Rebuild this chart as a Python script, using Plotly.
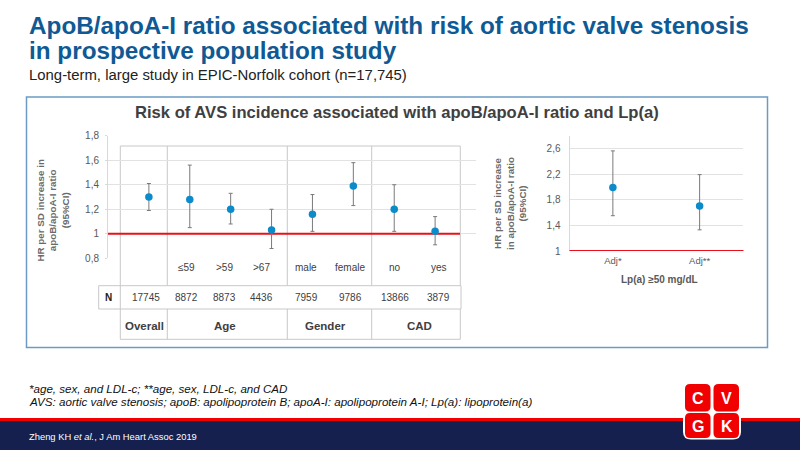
import plotly.graph_objects as go

# Left panel: HR per SD increase, with 95% CI
groups = ["Overall", "≤59", ">59", ">67", "male", "female", "no", "yes"]
hr = [1.30, 1.28, 1.20, 1.03, 1.16, 1.39, 1.20, 1.02]
ci_low = [1.19, 1.05, 1.08, 0.88, 1.02, 1.23, 1.02, 0.91]
ci_high = [1.41, 1.56, 1.33, 1.20, 1.32, 1.58, 1.40, 1.14]
n_values = ["17745", "8872", "8873", "4436", "7959", "9786", "13866", "3879"]
left_ticks = [0.8, 1, 1.2, 1.4, 1.6, 1.8]
left_ticktext = ["0,8", "1", "1,2", "1,4", "1,6", "1,8"]

# Right panel: Lp(a) >= 50 mg/dL
adj_labels = ["Adj*", "Adj**"]
adj_hr = [1.99, 1.70]
adj_low = [1.55, 1.33]
adj_high = [2.56, 2.19]
right_ticks = [1, 1.4, 1.8, 2.2, 2.6]
right_ticktext = ["1", "1,4", "1,8", "2,2", "2,6"]

group_names = ["Overall", "Age", "Gender", "CAD"]

FONT = "Liberation Sans"
BLUE = "#0f5a94"
GREY = "#595959"
DARK = "#404040"
DOT = "#0b8bc9"
RED = "#e8101a"
LINE = "#c8c8c8"


def px(x):
    return x / 800


def py(y):
    return 1 - y / 450


annotations = []
shapes = []


def note(text, x, y, size, color=GREY, anchor="center", angle=0):
    annotations.append(dict(
        text=text, x=px(x), y=py(y), xref="paper", yref="paper",
        xanchor=anchor, yanchor="middle", showarrow=False, textangle=angle,
        font=dict(family=FONT, size=size, color=color),
    ))


def box(x0, y0, x1, y1, color=LINE, width=1, fill=None):
    shapes.append(dict(
        type="rect", xref="paper", yref="paper", layer="below",
        x0=px(x0), x1=px(x1), y0=py(y0), y1=py(y1),
        line=dict(color=color, width=width), fillcolor=fill,
    ))


def seg(x0, y0, x1, y1, color=LINE, width=1):
    shapes.append(dict(
        type="line", xref="paper", yref="paper", layer="below",
        x0=px(x0), x1=px(x1), y0=py(y0), y1=py(y1),
        line=dict(color=color, width=width),
    ))


def rounded(x0, y0, x1, y1, r, fill):
    path = (
        f"M {px(x0 + r)} {py(y0)} L {px(x1 - r)} {py(y0)} "
        f"Q {px(x1)} {py(y0)} {px(x1)} {py(y0 + r)} L {px(x1)} {py(y1 - r)} "
        f"Q {px(x1)} {py(y1)} {px(x1 - r)} {py(y1)} L {px(x0 + r)} {py(y1)} "
        f"Q {px(x0)} {py(y1)} {px(x0)} {py(y1 - r)} L {px(x0)} {py(y0 + r)} "
        f"Q {px(x0)} {py(y0)} {px(x0 + r)} {py(y0)} Z"
    )
    shapes.append(dict(
        type="path", path=path, xref="paper", yref="paper", layer="above",
        fillcolor=fill, line=dict(width=0),
    ))


fig = go.Figure()

# Reference line at HR = 1, drawn first so the dots sit on top
fig.add_trace(go.Scatter(
    x=[0, 8.61], y=[1, 1], mode="lines", xaxis="x", yaxis="y",
    line=dict(color=RED, width=2), showlegend=False, hoverinfo="skip",
))

fig.add_trace(go.Scatter(
    x=list(range(1, 9)), y=hr, mode="markers", xaxis="x", yaxis="y",
    marker=dict(color=DOT, size=7.5),
    error_y=dict(
        type="data", symmetric=False,
        array=[h - m for h, m in zip(ci_high, hr)],
        arrayminus=[m - l for m, l in zip(hr, ci_low)],
        color="#7a7a7a", thickness=1, width=2,
    ),
    text=groups, showlegend=False,
))

fig.add_trace(go.Scatter(
    x=[0, 1], y=adj_hr, mode="markers", xaxis="x2", yaxis="y2",
    marker=dict(color=DOT, size=7.5),
    error_y=dict(
        type="data", symmetric=False,
        array=[h - m for h, m in zip(adj_high, adj_hr)],
        arrayminus=[m - l for m, l in zip(adj_hr, adj_low)],
        color="#7a7a7a", thickness=1, width=2,
    ),
    text=adj_labels, showlegend=False,
))

# Panel frame and footer band
box(26.5, 97, 767.5, 347.5, color="#6b9ac4", width=1.5)
box(0, 421, 800, 450, color="#15204f", width=0, fill="#15204f")
box(0, 418, 800, 421, color="#f00000", width=0, fill="#f00000")

# Table under the left chart
seg(120.3, 146, 460.3, 146)
for x in [120.3, 167.3, 287.3, 371.7, 460.3]:
    seg(x, 146, x, 285.7)
    seg(x, 309, x, 339.3)
seg(120.3, 339.3, 460.3, 339.3)
box(98.7, 285.7, 461, 309)
seg(120.3, 285.7, 120.3, 309)

# HR = 1 on the right chart sits on the plot edge, so it goes on as a shape
shapes.append(dict(
    type="line", xref="paper", yref="y2", x0=px(569.5), x1=px(743.5), y0=1, y1=1,
    layer="above", line=dict(color=RED, width=2),
))

# Titles
note("<b>ApoB/apoA-I ratio associated with risk of aortic valve stenosis</b>",
     26.5, 25, 24.3, BLUE, "left")
note("<b>in prospective population study</b>", 26.5, 51, 24.3, BLUE, "left")
note("Long-term, large study in EPIC-Norfolk cohort (n=17,745)", 26.5, 74.5, 14.9, "#222222", "left")
note("<b>Risk of AVS incidence associated with apoB/apoA-I ratio and Lp(a)</b>", 396.5, 112, 16.6, DARK)

# Rotated axis titles
note("<b>HR per SD increase in<br>apoB/apoA-I ratio<br>(95%CI)</b>", 52.5, 211, 9.8, "#6a6a6a", angle=-90)
note("<b>HR per SD increase<br>in apoB/apoA-I ratio<br>(95%CI)</b>", 510, 203, 9.8, "#6a6a6a", angle=-90)

# Table text
label_x = [186.7, 224.3, 261.7, 306, 350, 394.7, 439]
for label, x in zip(groups[1:], label_x):
    note(label, x, 267.7, 10, DARK)
n_x = [145.7] + label_x
note("<b>N</b>", 108, 297.3, 10, "#222222")
for value, x in zip(n_values, n_x):
    note(value, x, 297.3, 10, DARK)
for name, x in zip(group_names, [144.3, 225, 325.3, 419.3]):
    note(f"<b>{name}</b>", x, 326, 11.5, DARK)

note("<b>Lp(a) ≥50 mg/dL</b>", 659, 279, 10, GREY)

# Footnotes
note("<i>*age, sex, and LDL-c; **age, sex, LDL-c, and CAD</i>", 26.5, 388, 11.6, "#111111", "left")
note("<i>AVS: aortic valve stenosis; apoB: apolipoprotein B; apoA-I: apolipoprotein A-I; Lp(a): lipoprotein(a)</i>",
     26.5, 401, 11.6, "#111111", "left")
note("Zheng KH <i>et al.</i>, J Am Heart Assoc 2019", 26.5, 436, 9.4, "#ffffff", "left")

# Logo
rounded(683, 382.5, 741, 439.5, 8, "#ffffff")
rounded(685, 384, 710.5, 411.5, 5, "#f00000")
rounded(713.5, 384, 739, 411.5, 5, "#f00000")
rounded(685, 413, 710.5, 438, 5, "#f00000")
rounded(713.5, 413, 739, 438, 5, "#f00000")
for letter, x, y in [("C", 698, 398), ("V", 726.5, 398), ("G", 698, 426), ("K", 726.5, 426)]:
    note(f"<b>{letter}</b>", x, y, 16, "#ffffff")

axis_font = dict(family=FONT, size=10, color=GREY)

fig.update_layout(
    width=800, height=450, margin=dict(l=0, r=0, t=0, b=0, pad=0),
    paper_bgcolor="white", plot_bgcolor="rgba(0,0,0,0)",
    showlegend=False, annotations=annotations, shapes=shapes,
    xaxis=dict(
        domain=[px(108), px(476)], range=[0, 9], showgrid=False, zeroline=False,
        showticklabels=False, ticks="", anchor="y", automargin=False,
    ),
    yaxis=dict(
        domain=[py(258.3), py(135.7)], range=[0.8, 1.8], tickvals=left_ticks,
        ticktext=left_ticktext, tickfont=axis_font, gridcolor="#e2e2e2",
        gridwidth=1, zeroline=False, showline=True, linecolor="#d9d9d9",
        ticks="outside", ticklen=2, tickcolor="#d9d9d9", anchor="x",
        automargin=False, ticklabelstandoff=4,
    ),
    xaxis2=dict(
        domain=[px(569.5), px(743)], range=[-0.5, 1.5], tickvals=[0, 1],
        ticktext=adj_labels, showgrid=False, zeroline=False,
        tickfont=dict(family=FONT, size=9.5, color=GREY), ticks="", anchor="y2",
        automargin=False, ticklabelstandoff=2,
    ),
    yaxis2=dict(
        domain=[py(251), py(135.5)], range=[1, 2.8], tickvals=right_ticks,
        ticktext=right_ticktext, tickfont=axis_font, gridcolor="#e2e2e2",
        gridwidth=1, zeroline=False, showline=True, linecolor="#d9d9d9",
        ticks="", anchor="x2", automargin=False, ticklabelstandoff=6,
    ),
)

fig.write_html("out.html", config=dict(displayModeBar=False),
               post_script="document.body.style.margin = '0';")
